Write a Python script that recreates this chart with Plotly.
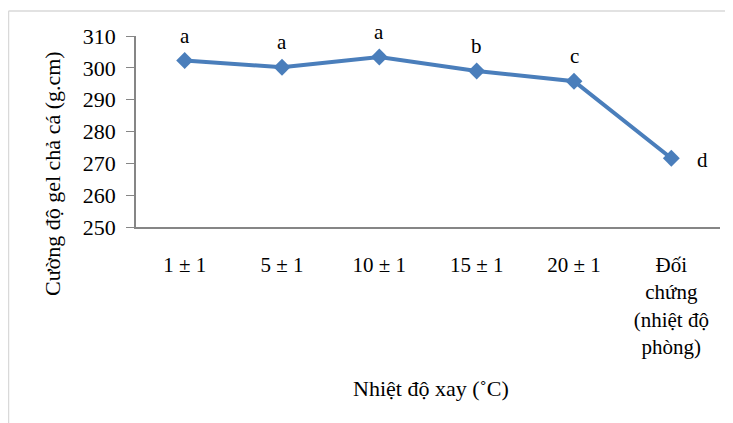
import plotly.graph_objects as go

categories = ["1 ± 1", "5 ± 1", "10 ± 1", "15 ± 1", "20 ± 1", "Đối<br>chứng<br>(nhiệt độ<br>phòng)"]
values = [302.3, 300.2, 303.4, 299.0, 295.8, 271.6]
letters = ["a", "a", "a", "b", "c", "d"]
y_ticks = [250, 260, 270, 280, 290, 300, 310]

FONT = "Times New Roman, Liberation Serif, serif"
x_idx = list(range(len(categories)))

fig = go.Figure()
fig.add_trace(go.Scatter(
    x=x_idx, y=values, mode="lines+markers",
    line=dict(color="#4A7EBB", width=4),
    marker=dict(symbol="diamond", size=13, color="#4A7EBB"),
    showlegend=False, hoverinfo="skip",
))

for i, (v, l) in enumerate(zip(values, letters)):
    if i == len(values) - 1:
        fig.add_annotation(x=i, y=v, text=l, showarrow=False, xshift=31, yshift=-2,
                           font=dict(family=FONT, size=21, color="#000"))
    else:
        fig.add_annotation(x=i, y=v, text=l, showarrow=False, yshift=25,
                           font=dict(family=FONT, size=21, color="#000"))

# axis titles as annotations (page px -> paper: x=(px-136)/584, y=(227-py)/191)
fig.add_annotation(xref="paper", yref="paper", x=(431 - 136) / 584, y=(227 - 388) / 191,
                   xanchor="center", yanchor="middle",
                   text="Nhiệt độ xay (˚C)", showarrow=False,
                   font=dict(family=FONT, size=22, color="#000"))
fig.add_annotation(xref="paper", yref="paper", x=(52 - 136) / 584, y=(227 - 174) / 191,
                   xanchor="center", yanchor="middle",
                   text="Cường độ gel chả cá (g.cm)", showarrow=False, textangle=-90,
                   font=dict(family=FONT, size=22, color="#000"))

# outer frame
x0 = (8.5 - 136) / 584
y_top = (227 - 11) / 191
fig.add_shape(type="line", xref="paper", yref="paper", x0=x0, x1=x0, y0=y_top, y1=-1.2,
              line=dict(color="#D9D9D9", width=1.5))
fig.add_shape(type="line", xref="paper", yref="paper", x0=x0, x1=1.1, y0=y_top, y1=y_top,
              line=dict(color="#D9D9D9", width=1.5))

fig.update_xaxes(
    tickmode="array", tickvals=x_idx, ticktext=categories,
    range=[-0.5, len(categories) - 0.5],
    showline=True, linecolor="#868686", linewidth=1.5,
    showgrid=False, zeroline=False, ticks="",
    tickfont=dict(family=FONT, size=21, color="#000"),
    ticklabelstandoff=18,
)
fig.update_yaxes(
    range=[250, 310], tickvals=y_ticks,
    showline=True, linecolor="#868686", linewidth=1.5,
    showgrid=False, zeroline=False, ticks="outside", ticklen=8, tickcolor="#868686",
    tickfont=dict(family=FONT, size=22, color="#000"),
    ticklabelstandoff=6,
)

# page body has an 8px margin, so the figure is offset by 8px
fig.update_layout(
    width=725, height=415,
    margin=dict(l=128, r=13, t=28, b=196),
    plot_bgcolor="white", paper_bgcolor="white",
    font=dict(family=FONT),
)

fig.write_html("out.html")
